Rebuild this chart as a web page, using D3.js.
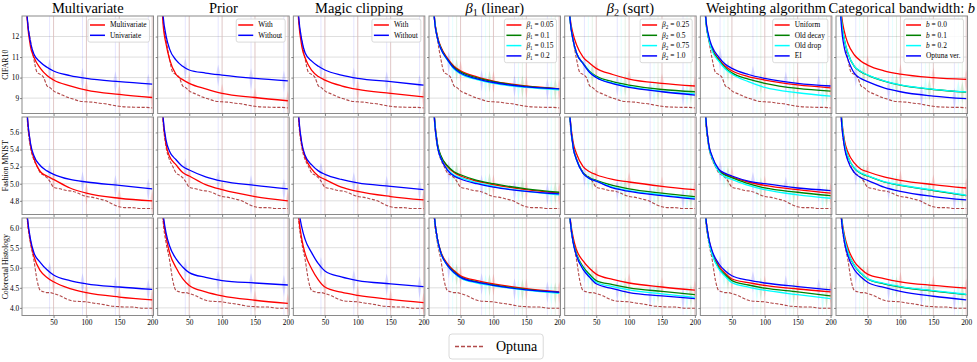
<!DOCTYPE html>
<html><head><meta charset="utf-8">
<script src="https://cdn.jsdelivr.net/npm/d3@7"></script>
<style>
body{margin:0;background:#fff}
svg{display:block}
text{font-family:"Liberation Serif","DejaVu Serif",serif;fill:#000}
</style>
</head><body>
<svg id="c" width="977" height="362"></svg>
<script>
// ---------- data ----------
const X  = [5, 10, 15, 20, 30, 40, 50, 75, 100, 150, 200];
const XO = [5,10,15,20,25,30,35,40,45,50,60,70,80,90,100,110,120,130,140,150,160,170,180,190,200];

const rowNames = ["CIFAR10", "Fashion MNIST", "Colorectal Histology"];
const yDomains = [[8.25, 13.0], [4.64, 5.78], [3.81, 6.24]];
const yTicks   = [[9, 10, 11, 12], [4.8, 5.0, 5.2, 5.4, 5.6], [4.0, 4.5, 5.0, 5.5, 6.0]];
const yFormats = ["d", ".1f", ".1f"];
const xTicks   = [50, 100, 150, 200];

const titles = [
  [["Multivariate", ""]],
  [["Prior", ""]],
  [["Magic clipping", ""]],
  [["β", "i"], ["1", "s"], [" (linear)", ""]],
  [["β", "i"], ["2", "s"], [" (sqrt)", ""]],
  [["Weighting algorithm", ""]],
  [["Categorical bandwidth: ", ""], ["b", "i"]]
];

const legendLabels = [
  [[["Multivariate",""]], [["Univariate",""]]],
  [[["With",""]], [["Without",""]]],
  [[["With",""]], [["Without",""]]],
  [[["β","i"],["1","s"],[" = 0.05",""]], [["β","i"],["1","s"],[" = 0.1",""]], [["β","i"],["1","s"],[" = 0.15",""]], [["β","i"],["1","s"],[" = 0.2",""]]],
  [[["β","i"],["2","s"],[" = 0.25",""]], [["β","i"],["2","s"],[" = 0.5",""]], [["β","i"],["2","s"],[" = 0.75",""]], [["β","i"],["2","s"],[" = 1.0",""]]],
  [[["Uniform",""]], [["Old decay",""]], [["Old drop",""]], [["EI",""]]],
  [[["b","i"],[" = 0.0",""]], [["b","i"],[" = 0.1",""]], [["b","i"],[" = 0.2",""]], [["Optuna ver.",""]]]
];

const colors2 = ["#ff0000", "#0000ff"];
const colors4 = ["#ff0000", "#008000", "#00ffff", "#0000ff"];

// Optuna baseline per dataset
const optunaCifar    = [16, 12.9, 11.8, 10.9, 10.25, 10.15, 10.0, 9.6, 9.5, 9.35, 9.2, 9.05, 8.95, 8.85, 8.82, 8.8, 8.75, 8.72, 8.65, 8.6, 8.57, 8.56, 8.55, 8.55, 8.52];
const optunaFashion  = [6.6, 5.75, 5.42, 5.28, 5.2, 5.125, 5.1, 5.07, 5.02, 4.96, 4.94, 4.92, 4.91, 4.88, 4.85, 4.84, 4.82, 4.80, 4.76, 4.73, 4.72, 4.72, 4.71, 4.71, 4.71];
const optunaColorect = [7.6, 6.2, 5.6, 5.2, 4.68, 4.43, 4.4, 4.38, 4.38, 4.36, 4.3, 4.22, 4.17, 4.16, 4.15, 4.12, 4.1, 4.07, 4.04, 4.03, 4.02, 4.02, 4.0, 3.99, 3.99];

// CIFAR10
const cifarMultivariate = [
  [16, 12.8, 11.5, 11.0, 10.45, 10.1, 9.88, 9.6, 9.39, 9.18, 9.03],
  [16, 12.9, 11.7, 11.15, 10.75, 10.5, 10.32, 10.1, 9.96, 9.80, 9.68]];
const cifarPrior = [
  [16, 12.7, 11.6, 10.9, 10.15, 9.9, 9.72, 9.45, 9.23, 9.03, 8.87],
  [16, 13.1, 12.0, 11.4, 10.85, 10.55, 10.37, 10.22, 10.12, 9.96, 9.84]];
const cifarMagic = [
  [16, 12.8, 11.5, 10.95, 10.35, 10.05, 9.88, 9.6, 9.42, 9.23, 9.06],
  [16, 13.0, 11.8, 11.2, 10.8, 10.55, 10.37, 10.12, 9.96, 9.80, 9.63]];
const cifarBeta1 = [
  [16, 13.0, 12.0, 11.5, 10.95, 10.55, 10.33, 10.03, 9.83, 9.59, 9.45],
  [16, 13.0, 11.95, 11.45, 10.9, 10.5, 10.28, 9.99, 9.80, 9.57, 9.45],
  [16, 12.95, 11.9, 11.4, 10.85, 10.42, 10.18, 9.9, 9.72, 9.52, 9.40],
  [16, 12.95, 11.9, 11.4, 10.88, 10.46, 10.22, 9.94, 9.76, 9.55, 9.45]];
const cifarBeta2 = [
  [16, 13.0, 12.1, 11.6, 11.0, 10.7, 10.45, 10.15, 9.93, 9.72, 9.59],
  [16, 12.9, 11.8, 11.2, 10.7, 10.3, 10.07, 9.8, 9.63, 9.42, 9.31],
  [16, 12.9, 11.8, 11.2, 10.68, 10.27, 10.02, 9.73, 9.56, 9.33, 9.20],
  [16, 12.9, 11.8, 11.2, 10.68, 10.25, 10.0, 9.7, 9.52, 9.31, 9.15]];
const cifarWeighting = [
  [16, 12.95, 11.9, 11.4, 10.9, 10.55, 10.33, 10.05, 9.88, 9.64, 9.50],
  [16, 12.9, 11.85, 11.35, 10.85, 10.47, 10.23, 9.92, 9.72, 9.47, 9.34],
  [16, 12.9, 11.85, 11.3, 10.8, 10.42, 10.17, 9.8, 9.52, 9.26, 9.10],
  [16, 13.0, 12.0, 11.5, 11.0, 10.65, 10.45, 10.15, 9.96, 9.72, 9.59]];
const cifarBandwidth = [
  [16, 13.2, 12.2, 11.67, 11.1, 10.8, 10.61, 10.33, 10.17, 10.0, 9.91],
  [16, 12.9, 11.8, 11.2, 10.53, 10.28, 10.12, 9.83, 9.63, 9.42, 9.29],
  [16, 12.9, 11.8, 11.2, 10.55, 10.3, 10.13, 9.84, 9.64, 9.43, 9.30],
  [16, 12.6, 11.4, 10.9, 10.2, 9.95, 9.80, 9.5, 9.31, 9.10, 8.97]];

// Fashion MNIST
const fashionMultivariate = [
  [6.6, 5.8, 5.45, 5.3, 5.14, 5.09, 5.05, 4.95, 4.89, 4.83, 4.80],
  [6.6, 5.8, 5.47, 5.33, 5.21, 5.15, 5.11, 5.05, 5.02, 4.98, 4.94]];
const fashionPrior = [
  [6.6, 5.78, 5.45, 5.32, 5.22, 5.13, 5.09, 4.99, 4.93, 4.85, 4.80],
  [6.6, 5.8, 5.5, 5.38, 5.28, 5.2, 5.16, 5.08, 5.03, 4.98, 4.94]];
const fashionMagic = [
  [6.6, 5.78, 5.45, 5.31, 5.17, 5.09, 5.05, 4.96, 4.91, 4.85, 4.81],
  [6.6, 5.8, 5.47, 5.33, 5.22, 5.15, 5.11, 5.05, 5.01, 4.97, 4.93]];
const fashionBeta1 = [
  [6.6, 5.8, 5.45, 5.32, 5.2, 5.13, 5.09, 5.03, 4.99, 4.93, 4.89],
  [6.6, 5.8, 5.46, 5.33, 5.21, 5.14, 5.105, 5.04, 5.0, 4.94, 4.90],
  [6.6, 5.78, 5.43, 5.3, 5.17, 5.1, 5.07, 5.01, 4.97, 4.91, 4.87],
  [6.6, 5.78, 5.43, 5.3, 5.16, 5.09, 5.055, 5.0, 4.96, 4.91, 4.88]];
const fashionBeta2 = [
  [6.6, 5.8, 5.48, 5.35, 5.2, 5.14, 5.105, 5.05, 5.02, 4.97, 4.93],
  [6.6, 5.78, 5.43, 5.29, 5.13, 5.07, 5.04, 4.98, 4.94, 4.89, 4.85],
  [6.6, 5.78, 5.42, 5.28, 5.12, 5.06, 5.03, 4.96, 4.92, 4.87, 4.83],
  [6.6, 5.78, 5.42, 5.28, 5.12, 5.06, 5.03, 4.95, 4.91, 4.86, 4.82]];
const fashionWeighting = [
  [6.6, 5.78, 5.44, 5.31, 5.16, 5.11, 5.08, 5.02, 4.98, 4.93, 4.89],
  [6.6, 5.78, 5.44, 5.3, 5.15, 5.1, 5.07, 5.0, 4.95, 4.9, 4.86],
  [6.6, 5.78, 5.43, 5.3, 5.14, 5.08, 5.05, 4.98, 4.93, 4.87, 4.83],
  [6.6, 5.8, 5.45, 5.32, 5.17, 5.12, 5.09, 5.03, 5.0, 4.95, 4.92]];
const fashionBandwidth = [
  [6.6, 5.82, 5.5, 5.37, 5.24, 5.17, 5.14, 5.08, 5.04, 4.99, 4.95],
  [6.6, 5.8, 5.46, 5.32, 5.18, 5.12, 5.09, 5.02, 4.98, 4.92, 4.86],
  [6.6, 5.8, 5.46, 5.32, 5.185, 5.125, 5.095, 5.025, 4.985, 4.925, 4.865],
  [6.6, 5.76, 5.42, 5.27, 5.13, 5.07, 5.04, 4.96, 4.91, 4.85, 4.81]];

// Colorectal Histology
const colorectMultivariate = [
  [7.6, 6.25, 5.65, 5.29, 4.92, 4.76, 4.65, 4.48, 4.38, 4.27, 4.20],
  [7.6, 6.3, 5.7, 5.38, 5.13, 4.95, 4.82, 4.68, 4.60, 4.52, 4.46]];
const colorectPrior = [
  [7.6, 6.3, 5.75, 5.38, 5.0, 4.73, 4.56, 4.40, 4.30, 4.19, 4.11],
  [7.6, 6.4, 5.85, 5.55, 5.22, 5.02, 4.88, 4.76, 4.68, 4.62, 4.57]];
const colorectMagic = [
  [7.6, 6.3, 5.7, 5.35, 4.97, 4.70, 4.52, 4.39, 4.31, 4.21, 4.13],
  [7.6, 6.5, 6.0, 5.7, 5.37, 5.10, 4.92, 4.77, 4.68, 4.60, 4.53]];
const colorectBeta1 = [
  [7.6, 6.3, 5.7, 5.4, 5.1, 4.93, 4.80, 4.68, 4.60, 4.48, 4.40],
  [7.6, 6.3, 5.7, 5.38, 5.07, 4.9, 4.77, 4.65, 4.57, 4.46, 4.38],
  [7.6, 6.3, 5.68, 5.36, 5.05, 4.87, 4.74, 4.62, 4.55, 4.44, 4.36],
  [7.6, 6.3, 5.7, 5.37, 5.06, 4.88, 4.76, 4.64, 4.56, 4.45, 4.39]];
const colorectBeta2 = [
  [7.6, 6.3, 5.75, 5.45, 5.17, 4.98, 4.84, 4.71, 4.62, 4.52, 4.44],
  [7.6, 6.25, 5.65, 5.35, 5.02, 4.83, 4.68, 4.58, 4.50, 4.41, 4.33],
  [7.6, 6.25, 5.62, 5.32, 4.98, 4.79, 4.64, 4.53, 4.45, 4.35, 4.26],
  [7.6, 6.25, 5.62, 5.3, 4.96, 4.76, 4.60, 4.48, 4.38, 4.30, 4.23]];
const colorectWeighting = [
  [7.6, 6.3, 5.7, 5.38, 5.05, 4.86, 4.72, 4.63, 4.56, 4.47, 4.40],
  [7.6, 6.28, 5.68, 5.35, 5.0, 4.82, 4.68, 4.57, 4.49, 4.40, 4.30],
  [7.6, 6.28, 5.66, 5.33, 4.97, 4.78, 4.63, 4.52, 4.44, 4.33, 4.23],
  [7.6, 6.3, 5.72, 5.42, 5.1, 4.92, 4.80, 4.69, 4.62, 4.53, 4.45]];
const colorectBandwidth = [
  [7.6, 6.35, 5.8, 5.5, 5.15, 4.97, 4.84, 4.73, 4.65, 4.56, 4.49],
  [7.6, 6.3, 5.72, 5.4, 5.05, 4.86, 4.72, 4.6, 4.52, 4.42, 4.33],
  [7.6, 6.3, 5.72, 5.4, 5.06, 4.87, 4.73, 4.61, 4.53, 4.43, 4.34],
  [7.6, 6.25, 5.62, 5.3, 4.95, 4.77, 4.64, 4.51, 4.41, 4.29, 4.20]];

const gridData = [
  [cifarMultivariate, cifarPrior, cifarMagic, cifarBeta1, cifarBeta2, cifarWeighting, cifarBandwidth],
  [fashionMultivariate, fashionPrior, fashionMagic, fashionBeta1, fashionBeta2, fashionWeighting, fashionBandwidth],
  [colorectMultivariate, colorectPrior, colorectMagic, colorectBeta1, colorectBeta2, colorectWeighting, colorectBandwidth]
];
const optunaRows = [optunaCifar, optunaFashion, optunaColorect];
const violinBase = [50, 100, 150, 200];

// ---------- layout ----------
const svg = d3.select("#c");
const defs = svg.append("defs");
const PX0 = 22, PSTEP = 135.67, PW = 131.5;
const PY0 = 16, RSTEP = 101, PH = 97.5;
const OPTUNA_COLOR = "#a52a2a";

function richText(sel, segs, size) {
  let lastSub = false;
  segs.forEach(([t, s]) => {
    const ts = sel.append("tspan").text(t);
    if (s === "i") ts.attr("font-style", "italic");
    if (s === "s") { ts.attr("font-size", size * 0.7).attr("dy", size * 0.22); lastSub = true; }
    else if (lastSub) { ts.attr("dy", -size * 0.22); lastSub = false; }
  });
}

titles.forEach((segs, ci) => {
  const cx = PX0 + ci * PSTEP + PW / 2;
  const t = svg.append("text").attr("x", cx).attr("y", 12.5)
    .attr("text-anchor", "middle").attr("font-size", 14.5);
  richText(t, segs, 14.5);
});

rowNames.forEach((name, ri) => {
  const cy = PY0 + ri * RSTEP + PH / 2;
  svg.append("text").attr("transform", `translate(5.5,${cy}) rotate(-90)`)
    .attr("text-anchor", "middle").attr("dy", "0.35em")
    .attr("font-size", 7.8).text(name);
});

gridData.forEach((rowData, ri) => {
  rowData.forEach((series, ci) => {
    const x0 = PX0 + ci * PSTEP, y0 = PY0 + ri * RSTEP;
    const xs = d3.scaleLinear().domain([2, 202]).range([x0, x0 + PW]);
    const ys = d3.scaleLinear().domain(yDomains[ri]).range([y0 + PH, y0]);
    const colors = series.length === 2 ? colors2 : colors4;
    const cid = `clip-${ri}-${ci}`;
    defs.append("clipPath").attr("id", cid).append("rect")
      .attr("x", x0).attr("y", y0).attr("width", PW).attr("height", PH);

    const g = svg.append("g");
    // grid
    g.selectAll(null).data(yTicks[ri]).join("line")
      .attr("x1", x0).attr("x2", x0 + PW)
      .attr("y1", d => ys(d)).attr("y2", d => ys(d))
      .attr("stroke", "#d6d6d6").attr("stroke-width", 0.8);
    g.selectAll(null).data(xTicks).join("line")
      .attr("x1", d => xs(d)).attr("x2", d => xs(d))
      .attr("y1", y0).attr("y2", y0 + PH)
      .attr("stroke", "#d6d6d6").attr("stroke-width", 0.8);

    const plot = g.append("g").attr("clip-path", `url(#${cid})`);

    // faint violins
    series.forEach((vals, i) => {
      const interp = d3.scaleLinear().domain(X).range(vals);
      violinBase.forEach(b => {
        const pos = b - i * 6;
        const px = xs(pos), py = ys(interp(pos));
        plot.append("line").attr("x1", px).attr("x2", px)
          .attr("y1", y0).attr("y2", y0 + PH)
          .attr("stroke", colors[i]).attr("stroke-opacity", 0.1).attr("stroke-width", 1);
        plot.append("path")
          .attr("d", `M${px},${py - 10}L${px + 1.8},${py - 2}L${px + 1.2},${py + 5}L${px},${py + 12}L${px - 1.2},${py + 5}L${px - 1.8},${py - 2}Z`)
          .attr("fill", colors[i]).attr("fill-opacity", 0.12);
      });
    });

    // optuna
    const lineO = d3.line().x((d, k) => xs(XO[k])).y(d => ys(d)).curve(d3.curveMonotoneX);
    plot.append("path").attr("d", lineO(optunaRows[ri]))
      .attr("fill", "none").attr("stroke", OPTUNA_COLOR).attr("stroke-opacity", 0.85)
      .attr("stroke-width", 1.1).attr("stroke-dasharray", "3.2,1.6");

    const line = d3.line().x((d, k) => xs(X[k])).y(d => ys(d)).curve(d3.curveMonotoneX);
    series.forEach((vals, i) => {
      plot.append("path").attr("d", line(vals))
        .attr("fill", "none").attr("stroke", colors[i]).attr("stroke-width", 1.3);
    });

    // border
    g.append("rect").attr("x", x0).attr("y", y0).attr("width", PW).attr("height", PH)
      .attr("fill", "none").attr("stroke", "#8a8a8a").attr("stroke-width", 1);

    // axes
    const ya = d3.axisLeft(ys).tickValues(yTicks[ri]).tickSize(2).tickPadding(0.8)
      .tickFormat(ci === 0 ? d3.format(yFormats[ri]) : () => "");
    const yg = g.append("g").attr("transform", `translate(${x0},0)`).call(ya);
    const xa = d3.axisBottom(xs).tickValues(xTicks).tickSize(2.5).tickPadding(2)
      .tickFormat(ri === 2 ? d3.format("d") : () => "");
    const xg = g.append("g").attr("transform", `translate(0,${y0 + PH})`).call(xa);
    [yg, xg].forEach(a => {
      a.select(".domain").remove();
      a.selectAll(".tick line").attr("stroke", "#666").attr("stroke-width", 0.8);
      a.selectAll(".tick text").attr("font-family", "'Liberation Serif',serif").attr("font-size", 7.4).attr("fill", "#000");
    });

    // legend (top row only)
    if (ri === 0) {
      const labels = legendLabels[ci];
      const lg = g.append("g");
      const box = lg.append("rect");
      const right = x0 + PW - 4, top = y0 + 3, step = 10.3;
      const texts = [];
      labels.forEach((segs, k) => {
        const t = lg.append("text").attr("y", top + 6 + k * step).attr("dy", "0.33em").attr("font-size", 7.4);
        richText(t, segs, 7.4);
        texts.push(t);
      });
      const tw = d3.max(texts, t => t.node().getComputedTextLength());
      const left = right - (22 + tw + 3);
      texts.forEach(t => t.attr("x", left + 22));
      labels.forEach((segs, k) => {
        lg.append("line").attr("x1", left + 2).attr("x2", left + 17)
          .attr("y1", top + 6 + k * step).attr("y2", top + 6 + k * step)
          .attr("stroke", colors[k]).attr("stroke-width", 1.5);
      });
      box.attr("x", left).attr("y", top).attr("width", right - left)
        .attr("height", labels.length * step + 2.5).attr("rx", 2)
        .attr("fill", "#fff").attr("fill-opacity", 0.85)
        .attr("stroke", "#d0d0d0").attr("stroke-width", 0.8);
    }
  });
});

// bottom legend
const bl = svg.append("g");
const blBox = bl.append("rect");
const blText = bl.append("text").attr("x", 496).attr("y", 351).attr("font-size", 14).text("Optuna");
bl.append("line").attr("x1", 455).attr("x2", 483).attr("y1", 346.5).attr("y2", 346.5)
  .attr("stroke", OPTUNA_COLOR).attr("stroke-opacity", 0.85).attr("stroke-width", 1.5).attr("stroke-dasharray", "4,2");
const btw = blText.node().getComputedTextLength();
blBox.attr("x", 449).attr("y", 334).attr("width", 496 + btw + 6 - 449).attr("height", 25)
  .attr("rx", 3).attr("fill", "#fff").attr("stroke", "#d0d0d0").attr("stroke-width", 0.8);
</script>
</body></html>
